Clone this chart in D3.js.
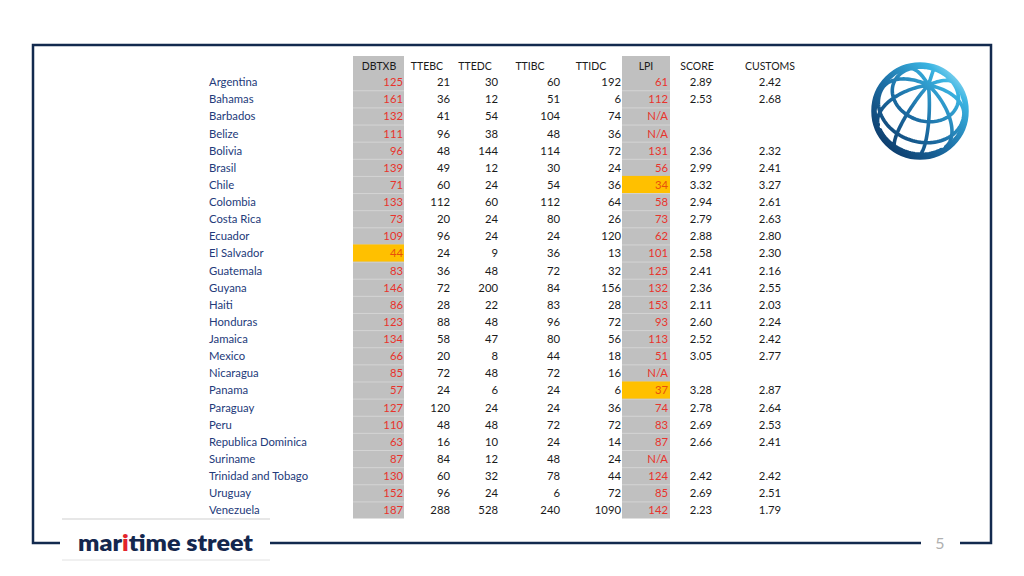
<!DOCTYPE html>
<html>
<head>
<meta charset="utf-8">
<script src="https://cdn.jsdelivr.net/npm/d3@7"></script>
<style>
body { margin: 0; background: #fff; }
svg { display: block; }
text { font-family: Lato, "Open Sans", sans-serif; }
</style>
</head>
<body>
<script>
// table data (N/A -> null)
var countries = ["Argentina","Bahamas","Barbados","Belize","Bolivia","Brasil","Chile","Colombia","Costa Rica","Ecuador",
  "El Salvador","Guatemala","Guyana","Haiti","Honduras","Jamaica","Mexico","Nicaragua","Panama","Paraguay","Peru",
  "Republica Dominica","Suriname","Trinidad and Tobago","Uruguay","Venezuela"];
var dbtxb = [125,161,132,111,96,139,71,133,73,109,44,83,146,86,123,134,66,85,57,127,110,63,87,130,152,187];
var ttebc = [21,36,41,96,48,49,60,112,20,96,24,36,72,28,88,58,20,72,24,120,48,16,84,60,96,288];
var ttedc = [30,12,54,38,144,12,24,60,24,24,9,48,200,22,48,47,8,48,6,24,48,10,12,32,24,528];
var ttibc = [60,51,104,48,114,30,54,112,80,24,36,72,84,83,96,80,44,72,24,24,72,24,48,78,6,240];
var ttidc = [192,6,74,36,72,24,36,64,26,120,13,32,156,28,72,56,18,16,6,36,72,14,24,44,72,1090];
var lpi = [61,112,null,null,131,56,34,58,73,62,101,125,132,153,93,113,51,null,37,74,83,87,null,124,85,142];
var score = [2.89,2.53,null,null,2.36,2.99,3.32,2.94,2.79,2.88,2.58,2.41,2.36,2.11,2.60,2.52,3.05,null,3.28,2.78,2.69,2.66,null,2.42,2.69,2.23];
var customs = [2.42,2.68,null,null,2.32,2.41,3.27,2.61,2.63,2.80,2.30,2.16,2.55,2.03,2.24,2.42,2.77,null,2.87,2.64,2.53,2.41,null,2.42,2.51,1.79];
var headers = ["DBTXB","TTEBC","TTEDC","TTIBC","TTIDC","LPI","SCORE","CUSTOMS"];
var highlights = [["El Salvador","DBTXB"],["Chile","LPI"],["Panama","LPI"]];
var shaded = ["DBTXB","LPI"];

var columns = {DBTXB: dbtxb, TTEBC: ttebc, TTEDC: ttedc, TTIBC: ttibc, TTIDC: ttidc, LPI: lpi, SCORE: score, CUSTOMS: customs};

var width = 1024, height = 576,
    navy = "#132a4e", red = "#e8332c", grey = "#c0c0c0";

var svg = d3.select("body").append("svg")
    .attr("width", width)
    .attr("height", height);

svg.append("rect").attr("width", width).attr("height", height).attr("fill", "#fff");

// rows: header + countries
var y = d3.scaleBand()
    .domain(["header"].concat(countries))
    .range([56, 518.5]);

// column anchors
var xHead = d3.scaleOrdinal().domain(headers).range([379, 427, 475, 530, 591, 646, 697, 770]);
var xVal = d3.scaleOrdinal().domain(headers).range([403, 450, 498, 560, 621, 668, 701, 770]);
var xBand = d3.scaleOrdinal().domain(shaded).range([[353, 404], [622, 670]]);
var anchor = function(h) { return (h == "SCORE" || h == "CUSTOMS") ? "middle" : "end"; };

// shaded columns
shaded.forEach(function(h) {
    var b = xBand(h);
    svg.append("rect")
        .attr("x", b[0]).attr("y", y.range()[0])
        .attr("width", b[1] - b[0]).attr("height", y.range()[1] - y.range()[0])
        .attr("fill", grey);
    svg.selectAll(null)
        .data(countries.slice(1))
        .enter().append("line")
        .attr("x1", b[0]).attr("x2", b[1])
        .attr("y1", function(d) { return y(d) + 0.5; })
        .attr("y2", function(d) { return y(d) + 0.5; })
        .attr("stroke", "#d4d4d4").attr("stroke-width", 1);
});

// highlighted cells
svg.selectAll(".hl")
    .data(highlights)
    .enter().append("rect")
    .attr("class", "hl")
    .attr("x", function(d) { return xBand(d[1])[0]; })
    .attr("y", function(d) { return y(d[0]); })
    .attr("width", function(d) { return xBand(d[1])[1] - xBand(d[1])[0]; })
    .attr("height", y.bandwidth())
    .attr("fill", "#ffc000");

function isHl(c, h) {
    return highlights.some(function(d) { return d[0] == c && d[1] == h; });
}

// header labels
svg.selectAll(".head")
    .data(headers)
    .enter().append("text")
    .attr("class", "head")
    .attr("x", function(d) { return xHead(d); })
    .attr("y", y("header") + y.bandwidth() / 2 + 1.5)
    .attr("dy", "0.35em")
    .attr("text-anchor", "middle")
    .attr("font-size", 10.5)
    .attr("fill", "#1a1a1a")
    .text(function(d) { return d; });

// country names
svg.selectAll(".country")
    .data(countries)
    .enter().append("text")
    .attr("class", "country")
    .attr("x", 209)
    .attr("y", function(d) { return y(d) + y.bandwidth() / 2 + 0.5; })
    .attr("dy", "0.35em")
    .attr("font-size", 11.3)
    .attr("fill", "#233a7a")
    .text(function(d) { return d; });

// value cells
headers.forEach(function(h) {
    var vals = columns[h];
    svg.selectAll(null)
        .data(countries)
        .enter().append("text")
        .attr("x", xVal(h))
        .attr("y", function(d) { return y(d) + y.bandwidth() / 2 + 0.5; })
        .attr("dy", "0.35em")
        .attr("text-anchor", anchor(h))
        .attr("font-size", 11.3)
        .attr("fill", function(d) {
            if (isHl(d, h)) return "#e8500c";
            return shaded.indexOf(h) >= 0 ? red : "#1a1a1a";
        })
        .text(function(d, i) {
            var v = vals[i];
            if (v == null) return shaded.indexOf(h) >= 0 ? "N/A" : "";
            return (h == "SCORE" || h == "CUSTOMS") ? d3.format(".2f")(v) : v;
        });
});

// frame
var frame = svg.append("g").attr("fill", "none").attr("stroke", navy).attr("stroke-width", 2.5);
frame.append("path").attr("d", "M60,543 H33 V45 H991 V543 H960");
frame.append("path").attr("d", "M270,543 H921");

// maritime street logo
svg.append("line").attr("x1", 62).attr("x2", 270).attr("y1", 519).attr("y2", 519)
    .attr("stroke", "#cfcfcf").attr("stroke-width", 1);
svg.append("line").attr("x1", 62).attr("x2", 270).attr("y1", 560).attr("y2", 560)
    .attr("stroke", "#e2e2e2").attr("stroke-width", 1);
var logo = svg.append("text")
    .attr("x", 78).attr("y", 551)
    .attr("font-family", "'Open Sans', sans-serif")
    .attr("font-weight", "800")
    .attr("font-size", 23)
    .attr("textLength", 175)
    .attr("lengthAdjust", "spacingAndGlyphs")
    .attr("fill", "#14274e");
logo.append("tspan").text("mar");
logo.append("tspan").attr("fill", "#e3242b").text("i");
logo.append("tspan").text("time street");

// page number
svg.append("text")
    .attr("x", 940).attr("y", 543)
    .attr("dy", "0.35em")
    .attr("text-anchor", "middle")
    .attr("font-size", 16)
    .attr("fill", "#b0b0b0")
    .text("5");

// globe logo
var defs = svg.append("defs");
var grad = defs.append("linearGradient")
    .attr("id", "globeGrad")
    .attr("gradientUnits", "userSpaceOnUse")
    .attr("x1", 875).attr("y1", 155).attr("x2", 965).attr("y2", 65);
grad.append("stop").attr("offset", "0%").attr("stop-color", "#0a2f5c");
grad.append("stop").attr("offset", "45%").attr("stop-color", "#1c6fa6");
grad.append("stop").attr("offset", "80%").attr("stop-color", "#3ab4e2");
grad.append("stop").attr("offset", "100%").attr("stop-color", "#c9f0fb");

var proj = d3.geoOrthographic()
    .scale(44)
    .translate([920, 111])
    .rotate([0, -52, -18])
    .clipAngle(90);
var geo = d3.geoPath(proj);

var merid = d3.range(-180, 180, 40).map(function(lon) {
    return d3.range(-90, 91, 3).map(function(lat) { return [lon, lat]; });
});
var paral = [-25, 8, 40].map(function(lat) {
    return d3.range(-180, 181, 3).map(function(lon) { return [lon, lat]; });
});
var globe = svg.append("g").attr("fill", "none").attr("stroke", "url(#globeGrad)");
globe.append("path")
    .datum({type: "MultiLineString", coordinates: merid.concat(paral)})
    .attr("d", geo)
    .attr("stroke-width", 3.6)
    .attr("stroke-linecap", "round");
globe.append("circle")
    .attr("cx", 920).attr("cy", 111).attr("r", 46)
    .attr("stroke-width", 5.5);
</script>
</body>
</html>
